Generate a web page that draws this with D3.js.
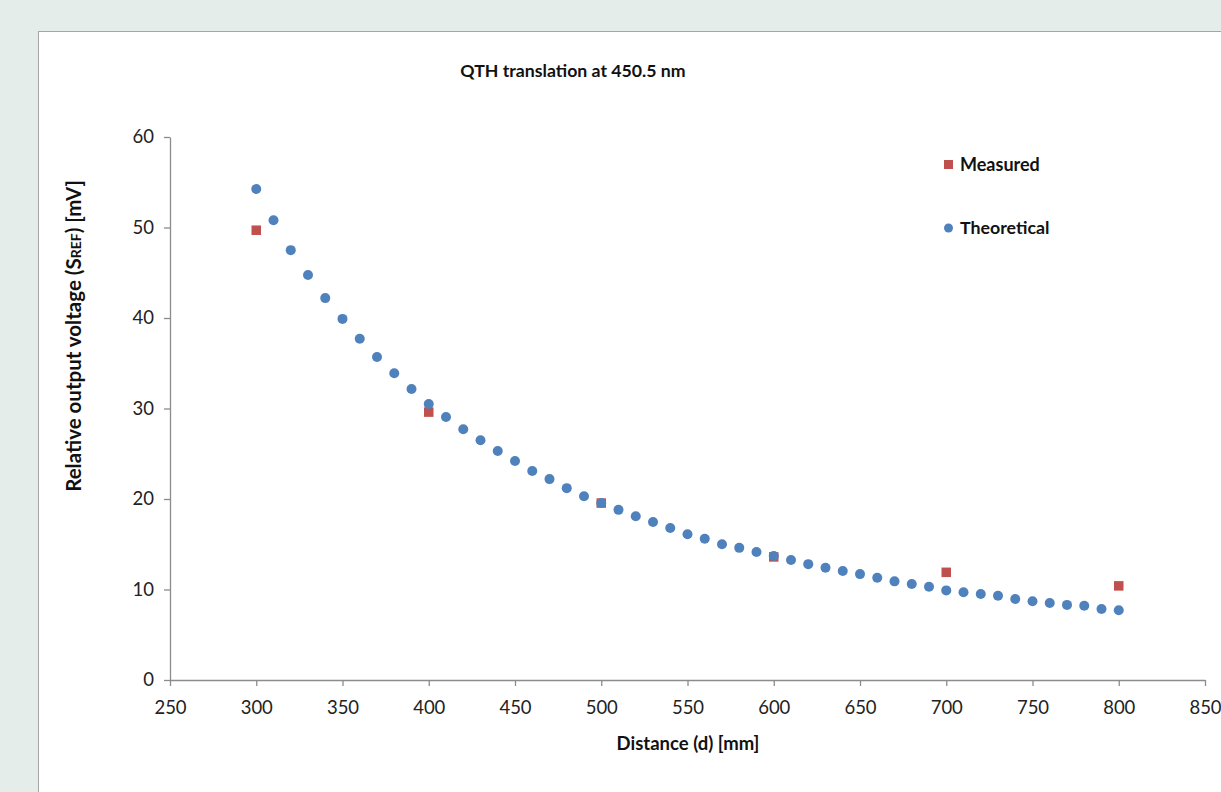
<!DOCTYPE html>
<html><head><meta charset="utf-8">
<script src="https://cdn.jsdelivr.net/npm/d3@7"></script>
<style>html,body{margin:0;padding:0;background:#e4ede9;overflow:hidden}</style>
</head><body>
<script>
const theoDist = [300,310,320,330,340,350,360,370,380,390,400,410,420,430,440,450,460,470,480,490,500,510,520,530,540,550,560,570,580,590,600,610,620,630,640,650,660,670,680,690,700,710,720,730,740,750,760,770,780,790,800];
const theoVals = [54.25,50.8,47.5,44.75,42.2,39.9,37.7,35.7,33.9,32.15,30.5,29.06,27.7,26.5,25.3,24.2,23.1,22.2,21.2,20.3,19.56,18.8,18.1,17.46,16.8,16.1,15.6,15.0,14.6,14.14,13.7,13.26,12.8,12.4,12.04,11.7,11.3,10.9,10.6,10.3,9.9,9.7,9.5,9.3,8.95,8.7,8.5,8.3,8.2,7.85,7.7];
const measDist = [300,400,500,600,700,800];
const measVals = [49.7,29.6,19.55,13.6,11.9,10.4];
const xTicks = [250,300,350,400,450,500,550,600,650,700,750,800,850];
const yTicks = [0,10,20,30,40,50,60];

const W=1221,H=792;
const svg=d3.select("body").append("svg").attr("width",W).attr("height",H);
svg.append("rect").attr("x",0).attr("y",0).attr("width",W).attr("height",H).attr("fill","#e4ede9");
svg.append("rect").attr("x",38.5).attr("y",31.5).attr("width",1300).attr("height",900).attr("fill","#fff").attr("stroke","#a6a6a6").attr("stroke-width",1);

const x=d3.scaleLinear().domain([250,850]).range([170,1205]);
const y=d3.scaleLinear().domain([0,60]).range([680,137]);
const font="Lato, 'Open Sans', sans-serif";

const gx=svg.append("g").attr("transform","translate(0,680)")
  .call(d3.axisBottom(x).tickValues(xTicks).tickSize(6).tickSizeOuter(0).tickPadding(15));
const gy=svg.append("g").attr("transform","translate(170,0)")
  .call(d3.axisLeft(y).tickValues(yTicks).tickSize(6).tickSizeOuter(0).tickPadding(10));
[gx,gy].forEach(g=>{
  g.selectAll("path,line").attr("stroke","#8c8c8c").attr("stroke-width",1.3);
  g.selectAll("text").attr("font-family",font).attr("font-size",18.5).attr("fill","#222");
});

svg.append("g").selectAll("rect").data(measDist).join("rect")
  .attr("x",(d)=>x(d)-4.75).attr("y",(d,i)=>y(measVals[i])-4.75).attr("width",9.5).attr("height",9.5).attr("fill","#c0504d");
svg.append("g").selectAll("circle").data(theoDist).join("circle")
  .attr("cx",d=>x(d)).attr("cy",(d,i)=>y(theoVals[i])).attr("r",5).attr("fill","#4f81bd");

const bold=(t)=>t.attr("font-family",font).attr("font-weight","bold").attr("fill","#111");
bold(svg.append("text").attr("x",573).attr("y",77).attr("text-anchor","middle").attr("font-size",17.7)).text("QTH translation at 450.5 nm");
bold(svg.append("text").attr("x",688).attr("y",750).attr("text-anchor","middle").attr("font-size",18.5)).text("Distance (d) [mm]");
const yl=bold(svg.append("text").attr("transform","translate(81,336) rotate(-90)").attr("text-anchor","middle").attr("font-size",20.5));
yl.append("tspan").text("Relative output voltage (S");
yl.append("tspan").attr("font-size",14).text("REF");
yl.append("tspan").text(") [mV]");

// legend
svg.append("rect").attr("x",944).attr("y",160).attr("width",9).attr("height",9).attr("fill","#c0504d");
bold(svg.append("text").attr("x",960).attr("y",171).attr("font-size",18)).text("Measured");
svg.append("circle").attr("cx",948.5).attr("cy",228).attr("r",4.5).attr("fill","#4f81bd");
bold(svg.append("text").attr("x",960).attr("y",234).attr("font-size",17.8)).text("Theoretical");
</script>
</body></html>
